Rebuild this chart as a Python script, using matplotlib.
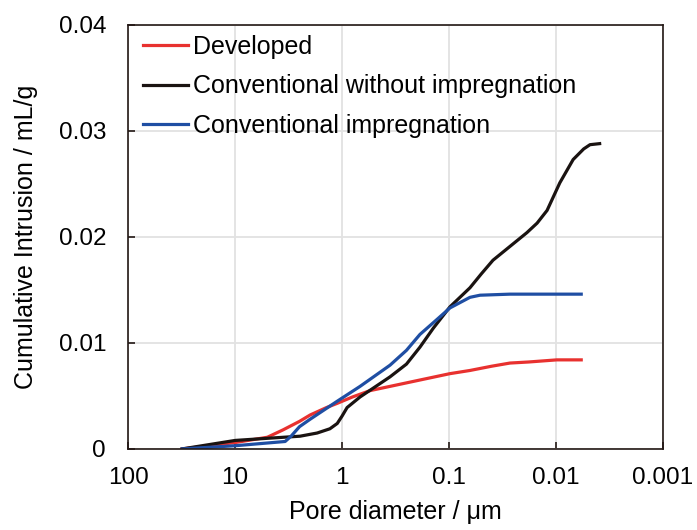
import numpy as np
import matplotlib
matplotlib.use("Agg")
import matplotlib.pyplot as plt
from matplotlib.ticker import FixedLocator, FixedFormatter

plt.rcParams['font.family'] = ['Liberation Sans', 'DejaVu Sans']

# pore diameter (um) / cumulative intrusion (mL/g)
dev_d = [31.3, 10, 5.0, 3.56, 2.5, 1.99, 1.4, 1.11, 0.8, 0.547, 0.356, 0.187, 0.098, 0.0637, 0.04, 0.0269, 0.018, 0.0098, 0.0058]
dev_v = [0, 0.0006, 0.0011, 0.0018, 0.0026, 0.0032, 0.0039, 0.0043, 0.0049, 0.0055, 0.0059, 0.0065, 0.0071, 0.0074, 0.0078, 0.0081, 0.0082, 0.0084, 0.0084]

conv_d = [31.3, 10, 5.0, 2.47, 1.71, 1.3, 1.11, 1.0, 0.898, 0.679, 0.5, 0.356, 0.25, 0.187, 0.14, 0.098, 0.0637,
          0.05, 0.0388, 0.0187, 0.015, 0.0121, 0.0092, 0.0069, 0.0055, 0.0048, 0.0039]
conv_v = [0, 0.0008, 0.0010, 0.0012, 0.0015, 0.0019, 0.0024, 0.0031, 0.0039, 0.0049, 0.0058, 0.0068, 0.0080, 0.0096, 0.0114, 0.0134, 0.0152,
          0.0165, 0.0178, 0.0204, 0.0213, 0.0225, 0.0251, 0.0273, 0.0283, 0.0287, 0.0288]

imp_d = [31.3, 10, 3.41, 3.0, 2.5, 1.99, 1.11, 0.679, 0.356, 0.25, 0.187, 0.13, 0.098, 0.0637, 0.0513, 0.0269, 0.0058]
imp_v = [0, 0.0003, 0.0007, 0.0012, 0.0021, 0.0028, 0.0045, 0.0059, 0.0079, 0.0093, 0.0108, 0.0122, 0.0133, 0.0143, 0.0145, 0.0146, 0.0146]

x_ticks = [100, 10, 1, 0.1, 0.01, 0.001]
x_labels = ['100', '10', '1', '0.1', '0.01', '0.001']
y_ticks = [0, 0.01, 0.02, 0.03, 0.04]
y_labels = ['0', '0.01', '0.02', '0.03', '0.04']

fig = plt.figure(figsize=(6.97, 5.30), dpi=100)
ax = fig.add_axes([0.184, 0.153, 0.767, 0.8])

ax.plot(dev_d, dev_v, color='#e8312f', lw=2.3, label='Developed')
ax.plot(conv_d, conv_v, color='#1a1311', lw=2.3, label='Conventional without impregnation')
ax.plot(imp_d, imp_v, color='#1f4ea3', lw=2.3, label='Conventional impregnation')

ax.set_xscale('log')
ax.set_xlim(100, 0.001)
ax.set_ylim(0, 0.04)
ax.xaxis.set_major_locator(FixedLocator(x_ticks))
ax.xaxis.set_major_formatter(FixedFormatter(x_labels))
ax.xaxis.set_minor_locator(FixedLocator([]))
ax.set_yticks(y_ticks)
ax.set_yticklabels(y_labels)

ax.grid(True, color='#e2e2e2', lw=1.3)
ax.set_axisbelow(True)
ax.tick_params(direction='in', length=5, width=1.2, labelsize=17.5, color='#231815')
ax.tick_params(axis='y', pad=16)
ax.tick_params(axis='x', pad=13)
for s in ax.spines.values():
    s.set_color('#231815')
    s.set_linewidth(1.2)

ax.set_xlabel('Pore diameter / μm', fontsize=18, labelpad=8)
ax.set_ylabel('Cumulative Intrusion / mL/g', fontsize=18, labelpad=15)

ax.legend(loc='upper left', frameon=False, fontsize=18, handlelength=1.8,
          handletextpad=0.2, labelspacing=0.62, borderaxespad=0.3,
          borderpad=0.3, bbox_to_anchor=(0.0, 1.012))

fig.savefig('out.png', dpi=100)
